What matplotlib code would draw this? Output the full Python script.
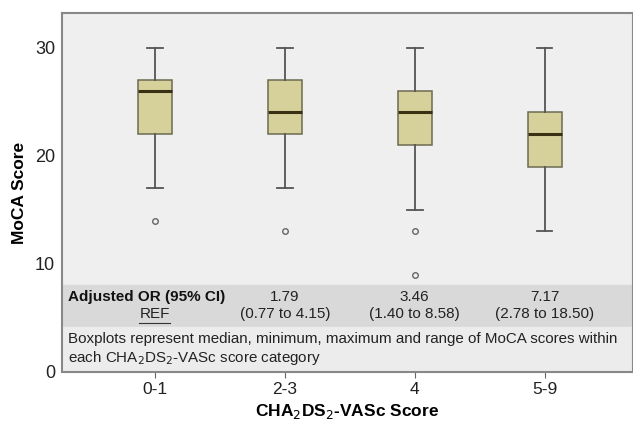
import matplotlib
matplotlib.use("Agg")
import matplotlib.pyplot as plt

plt.rcParams['font.family'] = ['Liberation Sans', 'DejaVu Sans']

# data
categories = ["0-1", "2-3", "4", "5-9"]
medians = [26, 24, 24, 22]
q1 = [22, 22, 21, 19]
q3 = [27, 27, 26, 24]
whis_lo = [17, 17, 15, 13]
whis_hi = [30, 30, 30, 30]
outliers = [[14], [13], [13, 9], []]
or_values = ["REF", "1.79", "3.46", "7.17"]
or_ci = ["", "(0.77 to 4.15)", "(1.40 to 8.58)", "(2.78 to 18.50)"]

stats = []
for i in range(len(categories)):
    stats.append(dict(med=medians[i], q1=q1[i], q3=q3[i],
                      whislo=whis_lo[i], whishi=whis_hi[i], fliers=outliers[i]))

fig = plt.figure(figsize=(6.33, 4.21), dpi=100)
ax = fig.add_axes([62 / 633, 1 - 372 / 421, 571 / 633, 359 / 421])
ax.set_facecolor("#efefef")

pos = list(range(1, len(categories) + 1))
ax.bxp(stats, positions=pos, widths=0.26, patch_artist=True,
       boxprops=dict(facecolor="#d6d09a", edgecolor="#6b6b50", linewidth=1.1),
       medianprops=dict(color="#3a3115", linewidth=2.2),
       whiskerprops=dict(color="#555555", linewidth=1.3),
       capprops=dict(color="#555555", linewidth=1.3),
       capwidths=0.12,
       flierprops=dict(marker="o", markersize=4, markerfacecolor="none",
                       markeredgecolor="#666666", markeredgewidth=1))

ax.set_xlim(0.285, 4.68)
ax.set_ylim(0, 33.2)
ax.set_yticks([0, 10, 20, 30])
ax.set_xticks(pos)
ax.set_xticklabels(categories)
ax.tick_params(axis="y", labelsize=13, length=0, pad=5, labelcolor="#222222")
ax.tick_params(axis="x", labelsize=12.5, color="#666666", length=4, labelcolor="#222222")

# table band
ax.axhspan(4.15, 8.0, color="#d9d9d9", zorder=0.5)
ax.axhspan(0, 4.15, color="#ececec", zorder=0.5)

ax.text(0.33, 6.95, "Adjusted OR (95% CI)", fontsize=11, fontweight="bold",
        va="center", ha="left", color="#111111")
for i, p in enumerate(pos):
    if or_values[i] == "REF":
        ax.text(p, 5.35, or_values[i], fontsize=11, ha="center", va="center",
                color="#222222")
        ax.plot([p - 0.12, p + 0.12], [4.55, 4.55], color="#333333", lw=0.8)
    else:
        ax.text(p, 6.95, or_values[i], fontsize=11, ha="center", va="center",
                color="#222222")
        ax.text(p, 5.35, or_ci[i], fontsize=11, ha="center", va="center",
                color="#222222")

ax.text(0.33, 3.05, "Boxplots represent median, minimum, maximum and range of MoCA scores within",
        fontsize=10.9, ha="left", va="center", color="#222222")
ax.text(0.33, 1.3, "each CHA$_2$DS$_2$-VASc score category",
        fontsize=10.9, ha="left", va="center", color="#222222")

for s in ax.spines.values():
    s.set_color("#888888")
    s.set_linewidth(1.5)

ax.set_ylabel("MoCA Score", fontsize=12.5, fontweight="bold", labelpad=6)
ax.set_xlabel("CHA$_2$DS$_2$-VASc Score", fontsize=12.5, fontweight="bold", labelpad=3)

fig.savefig("out.png", dpi=100)
